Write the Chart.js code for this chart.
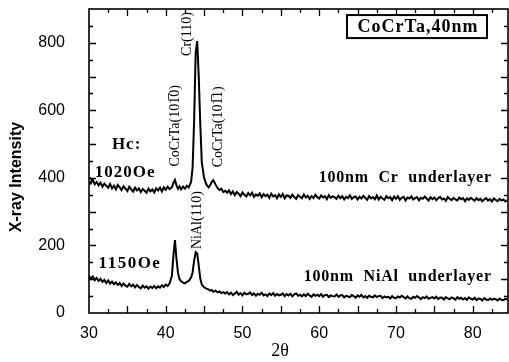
<!DOCTYPE html>
<html><head><meta charset="utf-8">
<script src="https://cdn.jsdelivr.net/npm/chart.js@4.4.0/dist/chart.umd.min.js"></script>
<style>html,body{margin:0;padding:0;background:#fff;overflow:hidden;}canvas{display:block;}</style>
</head><body>
<canvas id="c" width="509" height="362"></canvas>
<script>
const twoTheta = [
  30,30.25,30.5,30.75,31,31.25,31.5,31.75,32,32.25,32.5,32.75,33,33.25,33.5,33.75,34,34.25,34.5,34.75,
  35,35.25,35.5,35.75,36,36.25,36.5,36.75,37,37.25,37.5,37.75,38,38.25,38.5,38.75,39,39.25,39.5,39.75,40,40.25,40.5,
  40.8,41,41.2,41.4,41.6,41.8,42,42.25,42.5,42.75,43,43.3,43.5,43.7,43.9,44.1,44.3,44.5,44.7,45,45.3,45.6,45.8,46,46.2,46.5,46.75,47,47.25,47.5,47.75,
  48,48.25,48.5,48.75,49,49.25,49.5,49.75,50,50.25,50.5,50.75,51,51.25,51.5,51.75,52,52.25,52.5,52.75,
  53,53.25,53.5,53.75,54,54.25,54.5,54.75,55,55.25,55.5,55.75,56,56.25,56.5,56.75,57,57.25,57.5,57.75,
  58,58.25,58.5,58.75,59,59.25,59.5,59.75,60,60.25,60.5,60.75,61,61.25,61.5,61.75,62,62.25,62.5,62.75,
  63,63.25,63.5,63.75,64,64.25,64.5,64.75,65,65.25,65.5,65.75,66,66.25,66.5,66.75,67,67.25,67.5,67.75,
  68,68.25,68.5,68.75,69,69.25,69.5,69.75,70,70.25,70.5,70.75,71,71.25,71.5,71.75,72,72.25,72.5,72.75,
  73,73.25,73.5,73.75,74,74.25,74.5,74.75,75,75.25,75.5,75.75,76,76.25,76.5,76.75,77,77.25,77.5,77.75,
  78,78.25,78.5,78.75,79,79.25,79.5,79.75,80,80.25,80.5,80.75,81,81.25,81.5,81.75,82,82.25,82.5,82.75,
  83,83.25,83.5,83.75,84,84.25,84.5];
const crUnderlayer = [
  393,384,395,381,388,378,386,374,383,377,371,382,369,377,366,379,372,364,375,368,
  361,374,366,359,371,363,369,358,367,362,356,368,360,366,357,369,363,371,360,372,365,374,367,
  372,385,394,378,368,375,366,374,368,377,372,388,430,570,770,805,700,560,445,400,380,372,379,388,393,380,370,364,368,358,362,
  356,363,352,360,349,358,353,346,357,350,345,355,348,356,344,351,347,354,343,352,
  346,350,341,353,345,349,340,351,344,352,339,348,347,341,350,343,338,349,344,340,
  351,342,347,338,346,340,350,343,339,348,342,346,337,349,341,345,343,338,347,340,
  346,336,344,340,348,338,343,345,336,344,339,347,341,335,346,339,343,337,348,336,
  344,339,335,346,340,343,334,345,338,346,335,341,344,333,342,339,345,336,340,343,
  334,341,338,345,339,333,343,337,342,334,340,344,336,339,332,343,338,334,341,336,
  333,342,337,340,331,339,335,341,337,332,340,334,338,331,336,340,333,337,330,339,
  335,331,338,333,336,330,334];
const nialUnderlayer = [
  110,101,108,97,104,95,101,92,98,89,96,87,93,85,91,83,89,80,87,81,
  78,86,79,84,76,83,77,73,81,75,79,72,78,74,80,73,79,75,82,77,84,80,88,
  110,170,216,160,118,100,94,90,88,92,95,105,120,155,180,176,140,102,84,76,72,69,66,68,63,66,61,64,59,62,58,
  62,55,60,53,58,63,54,59,52,60,55,57,61,53,58,51,57,54,60,52,
  55,50,58,53,59,51,56,52,54,58,50,56,52,57,49,55,58,51,54,49,
  55,50,57,52,48,55,51,54,50,56,48,53,54,47,52,50,49,55,48,52,
  53,46,51,49,47,53,50,45,52,48,54,46,50,45,51,48,46,52,47,50,
  51,44,49,46,48,43,50,45,44,49,46,51,47,43,49,44,42,48,45,50,
  46,41,47,44,49,42,45,47,43,48,41,46,45,40,47,43,41,46,44,39,
  47,42,45,40,44,39,46,42,40,45,38,43,42,37,44,40,38,43,39,42,
  41,37,43,39,38,42,40];
const xTickLabels = [30,40,50,60,70,80];
const yTickLabels = [0,200,400,600,800];
const xTickMarks = [32.5,35,37.5,40,42.5,45,47.5,50,52.5,55,57.5,60,62.5,65,67.5,70,72.5,75,77.5,80,82.5];
const yTickMarks = [50,100,150,200,250,300,350,400,450,500,550,600,650,700,750,800,850];

const SERIF = '"Liberation Serif", "Times New Roman", serif';
const SANS = '"Liberation Sans", Arial, sans-serif';

function txt(ctx, s, px, py, font, align, rot, ls) {
  ctx.save();
  ctx.translate(px, py);
  ctx.rotate(rot || 0);
  ctx.font = font;
  ctx.textAlign = align || 'center';
  ctx.textBaseline = 'middle';
  try { ctx.letterSpacing = ls || '0px'; } catch (e) {}
  ctx.fillStyle = '#000';
  ctx.fillText(s, 0, 0);
  ctx.restore();
}

const decor = {
  id: 'decor',
  afterDatasetsDraw(chart) {
    const ctx = chart.ctx, a = chart.chartArea, x = chart.scales.x, y = chart.scales.y;
    ctx.save();
    ctx.strokeStyle = '#000';
    ctx.lineWidth = 1.6;
    ctx.strokeRect(a.left, a.top, a.right - a.left, a.bottom - a.top);
    ctx.lineWidth = 1.3;
    ctx.beginPath();
    xTickMarks.forEach(v => {
      const px = Math.round(x.getPixelForValue(v)) + 0.5;
      const len = (v % 5 === 0) ? 7 : 4;
      ctx.moveTo(px, a.bottom); ctx.lineTo(px, a.bottom - len);
      ctx.moveTo(px, a.top); ctx.lineTo(px, a.top + len);
    });
    yTickMarks.forEach(v => {
      const py = Math.round(y.getPixelForValue(v)) + 0.5;
      const len = (v % 100 === 0) ? 7 : 4;
      ctx.moveTo(a.left, py); ctx.lineTo(a.left + len, py);
      ctx.moveTo(a.right, py); ctx.lineTo(a.right - len, py);
    });
    ctx.stroke();

    const X = v => x.getPixelForValue(v), Y = v => y.getPixelForValue(v);
    txt(ctx, 'Hc:', X(34.9), Y(500), 'bold 17px ' + SERIF, 'center', 0, '1px');
    txt(ctx, '1020Oe', X(34.7), Y(417), 'bold 17px ' + SERIF, 'center', 0, '1px');
    txt(ctx, '1150Oe', X(35.34), Y(145), 'bold 17px ' + SERIF, 'center', 0, '1.5px');
    txt(ctx, '100nm  Cr  underlayer', X(82.5), Y(400), 'bold 16px ' + SERIF, 'right', 0, '0.8px');
    txt(ctx, '100nm  NiAl  underlayer', X(82.5), Y(107), 'bold 16px ' + SERIF, 'right', 0, '0.8px');
    txt(ctx, 'CoCrTa(101\u03050)', X(41.2), Y(554), '14px ' + SERIF, 'center', -Math.PI / 2);
    txt(ctx, 'CoCrTa(101\u03051)', X(46.8), Y(551), '14px ' + SERIF, 'center', -Math.PI / 2);
    txt(ctx, 'Cr(110)', X(42.77), Y(826), '14px ' + SERIF, 'center', -Math.PI / 2);
    txt(ctx, 'NiAl(110)', X(44.07), Y(275), '14px ' + SERIF, 'center', -Math.PI / 2);
    const bx = X(72.74), by = Y(848);
    ctx.fillStyle = '#fff';
    ctx.fillRect(bx - 70, by - 11.5, 140, 23);
    ctx.lineWidth = 2;
    ctx.strokeRect(bx - 70, by - 11.5, 140, 23);
    txt(ctx, 'CoCrTa,40nm', bx + 1, by + 1, 'bold 18px ' + SERIF, 'center', 0, '1px');
    txt(ctx, 'X-ray Intensity', 17, 177, 'bold 16px ' + SANS, 'center', -Math.PI / 2);
    txt(ctx, '2\u03b8', 280, 351, '18px ' + SERIF, 'center', 0);
    ctx.restore();
  }
};

new Chart(document.getElementById('c'), {
  type: 'line',
  data: {
    datasets: [
      {
        label: '100nm Cr underlayer',
        data: twoTheta.map((t, i) => ({ x: t, y: crUnderlayer[i] })),
        borderColor: '#000', borderWidth: 2, tension: 0,
        pointRadius: c => c.dataIndex === 0 ? 2.5 : 0,
        pointBackgroundColor: '#fff', pointBorderColor: '#000', pointBorderWidth: 1.5
      },
      {
        label: '100nm NiAl underlayer',
        data: twoTheta.map((t, i) => ({ x: t, y: nialUnderlayer[i] })),
        borderColor: '#000', borderWidth: 2, tension: 0, pointRadius: 0
      }
    ]
  },
  options: {
    responsive: false, animation: false, devicePixelRatio: 1,
    layout: { autoPadding: false, padding: { left: 0, top: 9, right: 1, bottom: 0 } },
    plugins: { legend: { display: false }, tooltip: { enabled: false } },
    scales: {
      x: {
        type: 'linear', min: 30, max: 84.6,
        grid: { display: false, drawTicks: true, tickLength: 11 },
        border: { display: false },
        ticks: { color: '#000', font: { family: SANS, size: 16 }, padding: 0, maxRotation: 0, autoSkip: false },
        afterBuildTicks: s => { s.ticks = xTickLabels.map(v => ({ value: v })); },
        afterFit: s => { s.height = 49; s.paddingLeft = 0; s.paddingRight = 0; }
      },
      y: {
        type: 'linear', min: 0, max: 900,
        grid: { display: false, drawTicks: true, tickLength: 24 },
        border: { display: false },
        ticks: { color: '#000', font: { family: SANS, size: 16 }, padding: 0, autoSkip: false },
        afterBuildTicks: s => { s.ticks = yTickLabels.map(v => ({ value: v })); },
        afterFit: s => { s.width = 89; s.paddingTop = 0; s.paddingBottom = 0; }
      }
    }
  },
  plugins: [decor]
});
</script>
</body></html>
